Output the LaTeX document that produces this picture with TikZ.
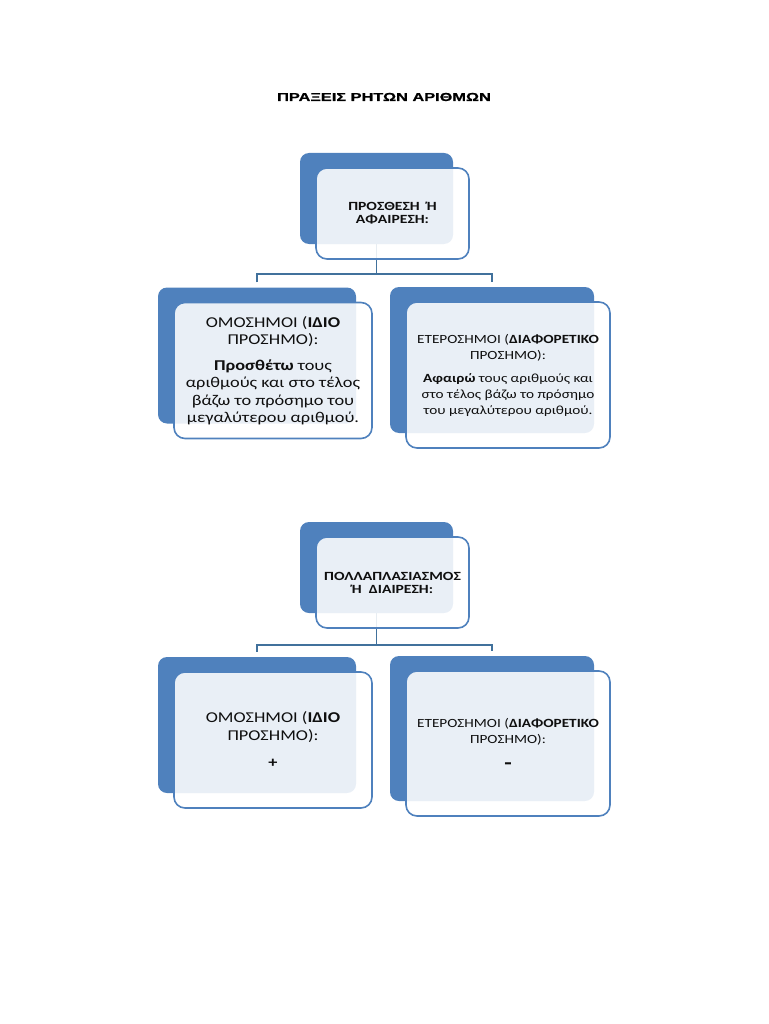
\documentclass[tikz,border=0pt]{standalone}
\usepackage{fontspec}
\setmainfont{Carlito}[FakeStretch=1.22]
\newfontfamily\capsfont{Carlito}[FakeStretch=1.25]
\newfontfamily\titlefont{Liberation Sans}[FakeStretch=1.42, FakeBold=0.8]
\usetikzlibrary{calc}
\definecolor{accent}{RGB}{79,129,189}
\definecolor{linkblue}{RGB}{65,113,156}
\definecolor{inktext}{RGB}{15,15,15}
\tikzset{
  backbox/.style={fill=accent, rounded corners=9pt, inner sep=0pt},
  frontbox/.style={draw=accent, line width=1.6pt, fill=white, fill opacity=0.88,
    text opacity=1, text=inktext, rounded corners=11pt, align=center, inner sep=0pt},
  topsize/.style={minimum width=153pt, minimum height=91pt},
  leftsize/.style={minimum width=198pt, minimum height=136pt},
  rightsize/.style={minimum width=204pt, minimum height=146pt},
  link/.style={draw=linkblue, line width=1.6pt},
  toptext/.style={font=\capsfont\fontsize{12.5}{13}\selectfont\bfseries},
  bigtext/.style={font=\fontsize{15}{17.5}\selectfont},
  smalltext/.style={font=\fontsize{12.5}{16}\selectfont},
}
\begin{document}
\begin{tikzpicture}[x=1pt,y=-1pt]
\useasboundingbox (0,0) rectangle (768,1024);
% title
\node[font=\titlefont\fontsize{11.5}{13}\selectfont\bfseries] (title) at (384,97) {ΠΡΑΞΕΙΣ ΡΗΤΩΝ ΑΡΙΘΜΩΝ};

% centres of the front boxes
\coordinate (addc) at (392.5,213.5);
\coordinate (samec) at (273,370.5);
\coordinate (diffc) at (508,375);
\coordinate (mulc) at (392.5,582.5);
\coordinate (msamec) at (273,740);
\coordinate (mdiffc) at (508,743.5);

% back boxes
\node[backbox, topsize] (addback) at ([shift={(-16,-15)}]addc) {};
\node[backbox, leftsize] (sameback) at ([shift={(-16,-15)}]samec) {};
\node[backbox, rightsize] (diffback) at ([shift={(-16,-15)}]diffc) {};
\node[backbox, topsize] (mulback) at ([shift={(-16,-15)}]mulc) {};
\node[backbox, leftsize] (msameback) at ([shift={(-16,-15)}]msamec) {};
\node[backbox, rightsize, minimum height=145pt] (mdiffback) at ([shift={(-16,-15)}]mdiffc) {};

% connectors
\draw[link] (addback.south) -- ++(0,30) coordinate (addfork);
\draw[link] ([yshift=5pt]sameback.north) |- (addfork) -| ([yshift=5pt]diffback.north);
\draw[link] (mulback.south) -- ++(0,32) coordinate (mulfork);
\draw[link] ([yshift=5pt]msameback.north) |- (mulfork) -| ([yshift=5pt]mdiffback.north);

% front boxes
\node[frontbox, topsize, toptext] (add) at (addc) {ΠΡΟΣΘΕΣΗ \ Ή\\ΑΦΑΙΡΕΣΗ:};
\node[frontbox, leftsize, bigtext] (same) at (samec)
  {ΟΜΟΣΗΜΟΙ (\textbf{ΙΔΙΟ}\\ΠΡΟΣΗΜΟ):\\[8pt]\textbf{Προσθέτω} τους\\αριθμούς και στο τέλος\\βάζω το πρόσημο του\\μεγαλύτερου αριθμού.};
\node[frontbox, rightsize, smalltext] (diff) at (diffc)
  {ΕΤΕΡΟΣΗΜΟΙ (\textbf{ΔΙΑΦΟΡΕΤΙΚΟ}\\ΠΡΟΣΗΜΟ):\\[7pt]\textbf{Αφαιρώ} τους αριθμούς και\\στο τέλος βάζω το πρόσημο\\του μεγαλύτερου αριθμού.};
\node[frontbox, topsize, toptext] (mul) at (mulc) {ΠΟΛΛΑΠΛΑΣΙΑΣΜΟΣ\\Ή \ ΔΙΑΙΡΕΣΗ:};
\node[frontbox, leftsize, bigtext] (msame) at (msamec)
  {ΟΜΟΣΗΜΟΙ (\textbf{ΙΔΙΟ}\\ΠΡΟΣΗΜΟ):\\[10pt]\textbf{+}};
\node[frontbox, rightsize, minimum height=145pt, smalltext] (mdiff) at (mdiffc)
  {ΕΤΕΡΟΣΗΜΟΙ (\textbf{ΔΙΑΦΟΡΕΤΙΚΟ}\\ΠΡΟΣΗΜΟ):\\[10pt]{\fontsize{20}{20}\selectfont\textbf{-}}};
\end{tikzpicture}
\end{document}
